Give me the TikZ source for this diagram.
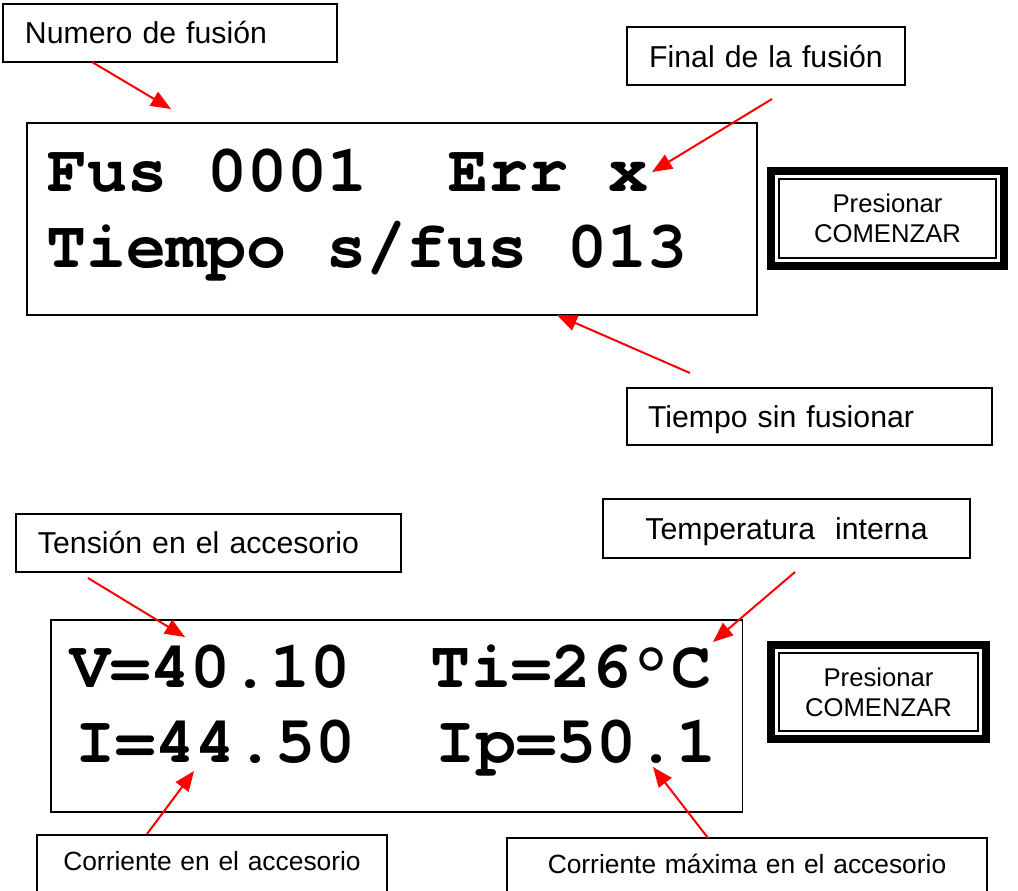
\documentclass[tikz,border=0pt]{standalone}
\usepackage{fontspec}
\setmainfont{Liberation Sans}
\newfontfamily\lcdfont{TeX Gyre Cursor}
\usetikzlibrary{arrows.meta}
\tikzstyle{tagbox}=[draw,line width=0.3mm,inner ysep=0pt,anchor=base,font=\fontsize{17.2}{20}\selectfont]
\tikzstyle{smalltag}=[tagbox,inner xsep=0pt,align=center,font=\fontsize{15}{18}\selectfont]
\tikzstyle{lcd}=[draw,line width=0.3mm,minimum height=38.4mm,inner sep=0pt]
\tikzstyle{lcdline}=[anchor=base west,inner sep=0pt,font=\lcdfont\bfseries\fontsize{38}{40}\selectfont]
\tikzstyle{btnouter}=[draw,line width=1.6mm,inner sep=0pt]
\tikzstyle{btninner}=[draw,line width=0.3mm,inner sep=0pt,align=center,font=\fontsize{14.6}{17}\selectfont]
\tikzstyle{pointer}=[draw=red,line width=0.4mm,-{Triangle[length=4mm,width=3.2mm]}]

\begin{document}
\begin{tikzpicture}[x=0.2mm,y=-0.2mm]
\useasboundingbox (0,0) rectangle (1018,890);

% Labels
\node[tagbox,text width=58mm,inner xsep=4.4mm,align=left,text height=7.8mm,text depth=3.8mm] (numero) at (170,43) {Numero de fusión};
\node[tagbox,text width=55.6mm,inner xsep=0pt,align=center,text height=8mm,text depth=3.6mm] (final) at (766,67) {Final de la fusión};
\node[tagbox,text width=64.6mm,inner xsep=4.2mm,align=left,text height=7.8mm,text depth=3.6mm] (sinfus) at (809.5,427) {Tiempo sin fusionar};
\node[tagbox,text width=68.2mm,inner xsep=4.4mm,align=left,text height=7.8mm,text depth=3.8mm] (tension) at (208.5,553) {Tensión en el accesorio};
\node[tagbox,text width=73.4mm,inner xsep=0pt,align=center,text height=8mm,text depth=3.8mm] (temp) at (786.5,539) {Temperatura\ \ interna};
\node[smalltag,text width=70mm,text height=7mm,text depth=5mm] (corr) at (212,870) {Corriente en el accesorio};
\node[smalltag,text width=96mm,text height=7mm,text depth=5mm] (corrmax) at (747,873) {Corriente máxima en el accesorio};

% Displays
\node[lcd,minimum width=146mm] (lcdA) at (392,219) {};
\node[lcd,minimum width=138.3mm] (lcdB) at (396.75,716) {};
\node[lcdline] (fus) at (47,191) {Fus 0001~~Err x};
\node[lcdline] (tiempo) at (46,267) {Tiempo s/fus 013};
\node[lcdline] (volt) at (70,687) {V=40.10~~Ti=26°C};
\node[lcdline] (amp) at (75,762) {I=44.50~~Ip=50.1};

% Buttons
\node[btnouter,minimum width=46.6mm,minimum height=19mm] (btnA) at (887.5,218.5) {};
\node[btninner,minimum width=43.4mm,minimum height=15.8mm] (btnAtxt) at (btnA) {Presionar\\COMENZAR};
\node[btnouter,minimum width=43mm,minimum height=18.8mm] (btnB) at (878.5,692) {};
\node[btninner,minimum width=39.8mm,minimum height=15.6mm] (btnBtxt) at (btnB) {Presionar\\COMENZAR};

% Pointers
\foreach \pos/\name in {{(92,62)/numS}, {(171,109)/numT}, {(772,99)/finS}, {(652,172)/finT},
    {(690,373)/sinS}, {(557,315)/sinT}, {(88,578)/tenS}, {(185,637)/tenT},
    {(795,572)/tmpS}, {(713,642)/tmpT}, {(147,834)/corS}, {(194,771)/corT},
    {(708,838)/maxS}, {(653,767)/maxT}}
  \node[coordinate] (\name) at \pos {};

\foreach \source/\dest in {numS/numT, finS/finT, sinS/sinT, tenS/tenT, tmpS/tmpT, corS/corT, maxS/maxT}
  \path[pointer] (\source) -- (\dest);

\end{tikzpicture}
\end{document}
